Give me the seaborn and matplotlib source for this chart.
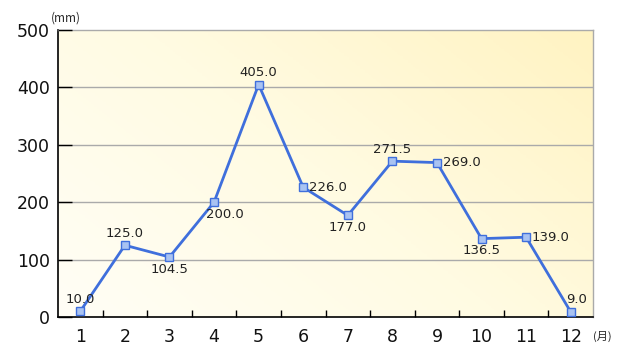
import numpy as np
import pandas as pd
import seaborn as sns
import matplotlib.pyplot as plt
from matplotlib.colors import LinearSegmentedColormap

sns.set_theme(style="white")
plt.rcParams["font.family"] = ["DejaVu Sans", "Noto Sans CJK JP"]

# 月別降水量 (mm)
meses = [1, 2, 3, 4, 5, 6, 7, 8, 9, 10, 11, 12]
chuva = [10.0, 125.0, 104.5, 200.0, 405.0, 226.0, 177.0, 271.5, 269.0, 136.5, 139.0, 9.0]
rotulos = ["10.0", "125.0", "104.5", "200.0", "405.0", "226.0", "177.0", "271.5", "269.0", "136.5", "139.0", "9.0"]
# posicao do rotulo: (dx, dy) em pontos e alinhamento
desloc = [(0, 4, "center"), (0, 4, "center"), (0, -4, "center"), (-6, -4, "left"),
          (0, 4, "center"), (4, 0, "left"), (0, -4, "center"), (0, 4, "center"),
          (4, 0, "left"), (0, -4, "center"), (4, 0, "left"), (-3, 4, "left")]
y_ticks = [0, 100, 200, 300, 400, 500]

df = pd.DataFrame({"mes": meses, "chuva": chuva})

fig = plt.figure(figsize=(6.18, 3.56), dpi=100)
ax = fig.add_axes([0.0939, 0.1096, 0.8656, 0.8061])
ax.set_axisbelow(False)

# fundo em degradê (branco-creme -> amarelo)
cmap = LinearSegmentedColormap.from_list("fundo", ["#fffef6", "#fffbe2", "#fff3c2"])
gx, gy = np.meshgrid(np.linspace(0, 1, 200), np.linspace(0, 1, 200))
grad = (gx * 0.6 + gy * 0.4)
ax.imshow(grad, extent=[0.5, 12.5, 0, 500], origin="lower", aspect="auto",
          cmap=cmap, zorder=0)

for v in y_ticks[1:-1]:
    ax.axhline(v, color="#aaaaaa", lw=1, zorder=1)

sns.lineplot(data=df, x="mes", y="chuva", ax=ax, color="#3f6fdc", lw=2,
             marker="s", markersize=5.5, markerfacecolor="#a9c3f2",
             markeredgecolor="#3f6fdc", markeredgewidth=1, zorder=3)

for m, c, r, (dx, dy, ha) in zip(meses, chuva, rotulos, desloc):
    va = "bottom" if dy > 0 else ("top" if dy < 0 else "center")
    ax.annotate(r, (m, c), xytext=(dx, dy), textcoords="offset points",
                ha=ha, va=va, fontsize=9.5, color="#222222", zorder=4)

ax.set_xlim(0.5, 12.5)
ax.set_ylim(0, 500)
ax.set_xticks(meses)
ax.set_xticklabels([str(m) for m in meses], fontsize=12.5, color="#111111")
ax.set_xticks([m + 0.5 for m in meses[:-1]], minor=True)
ax.set_yticks(y_ticks)
ax.set_yticklabels([str(v) for v in y_ticks], fontsize=12.5, color="#111111")
ax.tick_params(axis="x", which="major", length=0, pad=8)
ax.tick_params(axis="x", which="minor", direction="in", length=5, width=1, color="black", bottom=True)
ax.tick_params(axis="y", direction="in", length=10, width=1, color="black", pad=6, left=True)
ax.set_xlabel("")
ax.set_ylabel("")

for lado in ["left", "bottom"]:
    ax.spines[lado].set_color("black")
    ax.spines[lado].set_linewidth(1.2)
for lado in ["top", "right"]:
    ax.spines[lado].set_color("#aaaaaa")
    ax.spines[lado].set_linewidth(1)

fig.text(0.083, 0.93, "(mm)", fontsize=8.5, family=["Noto Sans CJK JP"], ha="left", va="bottom")
fig.text(0.96, 0.055, "(月)", fontsize=8, family=["Noto Sans CJK JP"], ha="left", va="center")

fig.savefig("out.png", dpi=100)
